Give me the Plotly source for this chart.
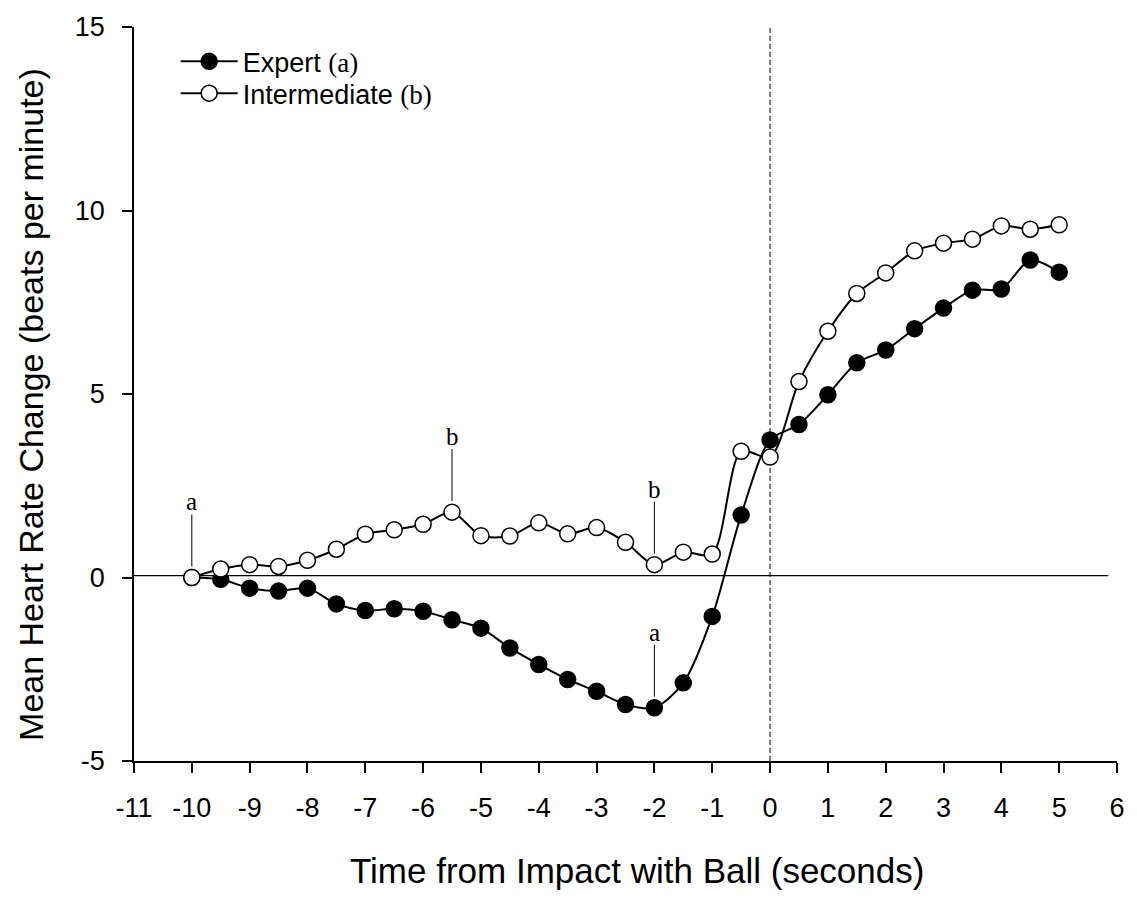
import plotly.graph_objects as go

time = [-10, -9.5, -9, -8.5, -8, -7.5, -7, -6.5, -6, -5.5, -5, -4.5, -4, -3.5, -3, -2.5, -2,
        -1.5, -1, -0.5, 0, 0.5, 1, 1.5, 2, 2.5, 3, 3.5, 4, 4.5, 5]
expert = [0.0, -0.05, -0.29, -0.37, -0.29, -0.72, -0.90, -0.85, -0.92, -1.15, -1.38, -1.92,
          -2.37, -2.78, -3.10, -3.46, -3.55, -2.87, -1.06, 1.70, 3.75, 4.17, 4.98, 5.85,
          6.20, 6.78, 7.34, 7.83, 7.86, 8.65, 8.32]
intermediate = [0.0, 0.23, 0.35, 0.30, 0.47, 0.77, 1.18, 1.30, 1.45, 1.78, 1.14, 1.13,
                1.49, 1.19, 1.36, 0.96, 0.35, 0.69, 0.64, 3.44, 3.28, 5.34, 6.71, 7.74,
                8.30, 8.90, 9.11, 9.22, 9.58, 9.49, 9.61]

# significance labels: letter, time point, series it marks
sig_labels = ["a", "b", "b", "a"]
sig_times = [-10, -5.5, -2, -2]
sig_series = ["expert", "intermediate", "intermediate", "expert"]

x_ticks = list(range(-11, 7))
y_ticks = [-5, 0, 5, 10, 15]

x_title = "Time from Impact with Ball (seconds)"
y_title = "Mean Heart Rate Change (beats per minute)"

SANS = "Liberation Sans, Arial, sans-serif"
SERIF = "Liberation Serif, Times New Roman, serif"
SERIF_SPAN = "<span style='font-family:Liberation Serif, Times New Roman, serif'>{}</span>"

W, H = 1137, 907
ML, MR, MT, MB = 134, 12, 23, 146
PW, PH = W - ML - MR, H - MT - MB

fig = go.Figure()

fig.add_trace(go.Scatter(
    x=time, y=expert, mode="lines+markers",
    name="Expert " + SERIF_SPAN.format("(a)"), legend="legend",
    line=dict(color="black", width=2, shape="spline", smoothing=0.8),
    marker=dict(symbol="circle", size=16, color="black", line=dict(color="black", width=1.5)),
))
fig.add_trace(go.Scatter(
    x=time, y=intermediate, mode="lines+markers",
    name="Intermediate " + SERIF_SPAN.format("(b)"), legend="legend2",
    line=dict(color="black", width=2, shape="spline", smoothing=0.8),
    marker=dict(symbol="circle", size=16, color="white", line=dict(color="black", width=1.5)),
))

# zero reference line and impact line
fig.add_shape(type="line", xref="x", yref="y", x0=-11, x1=5.85, y0=0.05, y1=0.05,
              line=dict(color="black", width=1.2), layer="below")
fig.add_shape(type="line", xref="x", yref="y", x0=0, x1=0, y0=-5, y1=15,
              line=dict(color="black", width=1, dash="5px,3px"), layer="below")

series_map = {"expert": expert, "intermediate": intermediate}
for lab, t, s in zip(sig_labels, sig_times, sig_series):
    v = series_map[s][time.index(t)]
    fig.add_shape(type="line", xref="x", yref="y", x0=t, x1=t, y0=v + 0.3, y1=v + 1.72,
                  line=dict(color="black", width=1))
    fig.add_annotation(x=t, y=v + 1.72, xref="x", yref="y", text=lab, showarrow=False,
                       yanchor="bottom", yshift=-3,
                       font=dict(family=SERIF, size=25, color="black"))

# axis titles placed as paper annotations
fig.add_annotation(text=x_title, xref="paper", yref="paper",
                   x=(641 - ML) / PW, y=0, yshift=-(870 - (H - MB)),
                   xanchor="center", yanchor="middle", showarrow=False,
                   font=dict(family=SANS, size=35, color="black"))
fig.add_annotation(text=y_title, xref="paper", yref="paper", textangle=-90,
                   x=0, xshift=-(ML - 31), y=1 - (403 - MT) / PH,
                   xanchor="center", yanchor="middle", showarrow=False,
                   font=dict(family=SANS, size=34, color="black"))

legend_common = dict(xanchor="left", yanchor="middle", bgcolor="rgba(0,0,0,0)",
                     font=dict(family=SANS, size=27, color="black"), itemwidth=57)
fig.update_layout(
    width=W, height=H,
    margin=dict(l=ML, r=MR, t=MT, b=MB),
    paper_bgcolor="white", plot_bgcolor="white",
    font=dict(family=SANS, color="black", size=27),
    showlegend=True,
    legend=dict(x=(176 - ML) / PW, y=1 - (58 - MT) / PH, **legend_common),
    legend2=dict(x=(176 - ML) / PW, y=1 - (90 - MT) / PH, **legend_common),
)
fig.update_xaxes(
    range=[-11, 6], tickvals=x_ticks, ticktext=[str(v) for v in x_ticks],
    showgrid=False, zeroline=False, showline=True, linecolor="black", linewidth=1.5,
    ticks="outside", ticklen=10, tickwidth=1.5, tickcolor="black",
    ticklabelstandoff=12, ticklabeloverflow="allow",
    tickfont=dict(size=27, family=SANS),
)
fig.update_yaxes(
    range=[-5, 15], tickvals=y_ticks, ticktext=[str(v) for v in y_ticks],
    showgrid=False, zeroline=False, showline=True, linecolor="black", linewidth=1.5,
    ticks="outside", ticklen=10, tickwidth=1.5, tickcolor="black",
    ticklabelstandoff=12, ticklabeloverflow="allow",
    tickfont=dict(size=27, family=SANS),
)

fig.write_html("out.html", config={"displayModeBar": False},
               post_script="document.body.style.margin='0px';")
